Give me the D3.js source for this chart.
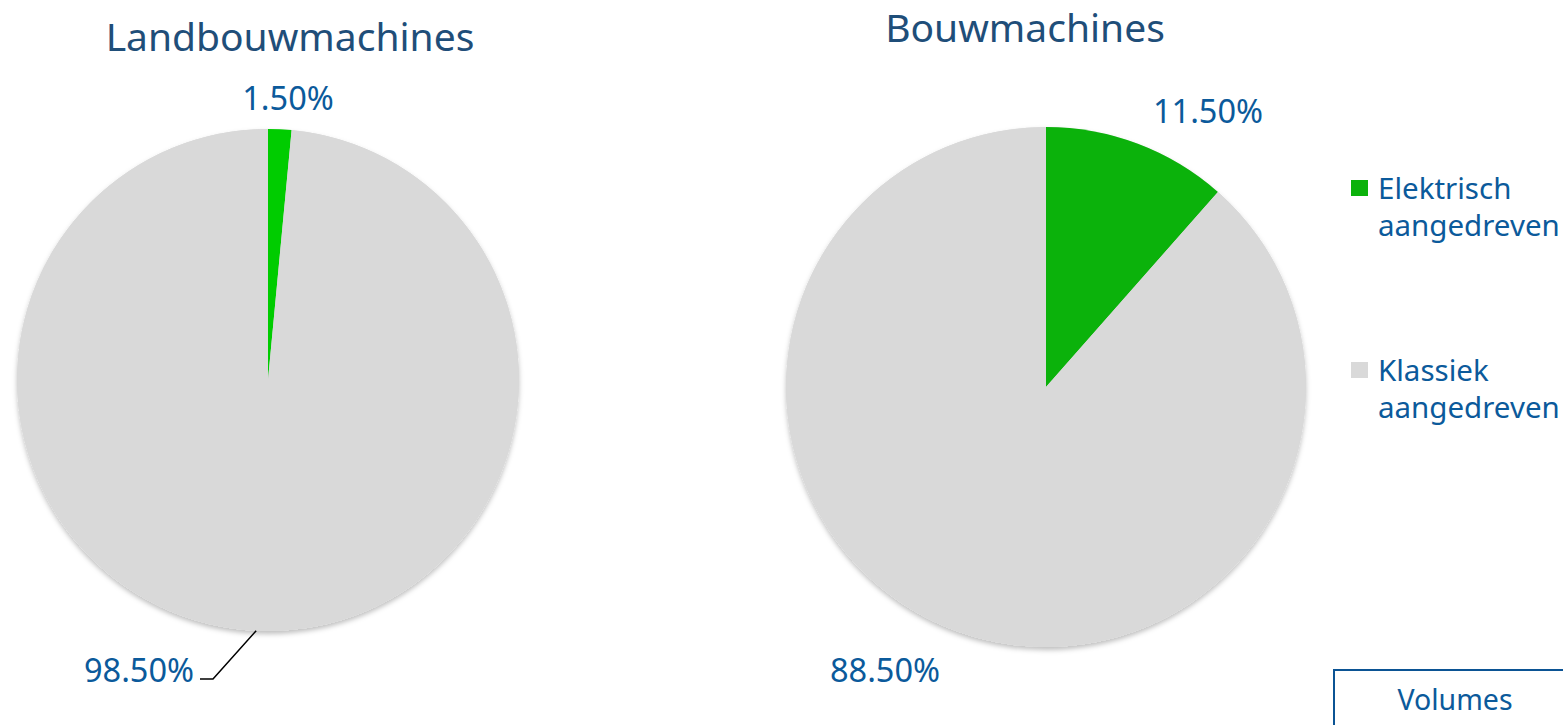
<!DOCTYPE html>
<html>
<head>
<meta charset="utf-8">
<script src="https://cdn.jsdelivr.net/npm/d3@7"></script>
<style>
  body { margin: 0; background: #fff; }
  text { font-family: "Noto Sans", "DejaVu Sans", sans-serif; }
</style>
</head>
<body>
<script>
var W = 1563, H = 725;

// data
var categories = ["Elektrisch aangedreven", "Klassiek aangedreven"];
var titles = ["Landbouwmachines", "Bouwmachines"];
var landbouw = [1.5, 98.5];
var bouw = [11.5, 88.5];

var textBlue = "#0B5A9B";
var titleBlue = "#1F4E79";
var grey = "#D9D9D9";

var svg = d3.select("body").append("svg")
    .attr("width", W)
    .attr("height", H);

var defs = svg.append("defs");
var f = defs.append("filter").attr("id", "shadow")
    .attr("x", "-10%").attr("y", "-10%").attr("width", "120%").attr("height", "125%");
f.append("feDropShadow")
    .attr("dx", 0).attr("dy", 3).attr("stdDeviation", 2.5)
    .attr("flood-color", "#000").attr("flood-opacity", 0.25);

var pie = d3.pie().sort(null).value(d => d);

// layout per chart (positions only)
var charts = [
  {values: landbouw, title: titles[0], cx: 268, cy: 380, r: 251, tx: 290, ty: 51,
   green: "#00CC00",
   labels: [{x: 288, y: 110, lead: false}, {x: 139, y: 682, lead: true, lx: 200, ly: 679}]},
  {values: bouw, title: titles[1], cx: 1046, cy: 387, r: 260, tx: 1025, ty: 42,
   green: "#0BB20B",
   labels: [{x: 1208, y: 123, lead: false}, {x: 885, y: 682, lead: false}]}
];

charts.forEach(function(c) {
  var color = d3.scaleOrdinal().domain(categories).range([c.green, grey]);
  var arc = d3.arc().innerRadius(0).outerRadius(c.r);
  var g = svg.append("g").attr("transform", "translate(" + c.cx + "," + c.cy + ")");

  var arcs = pie(c.values);
  g.append("circle").attr("r", c.r).attr("fill", grey).attr("filter", "url(#shadow)");
  g.selectAll("path.slice").data(arcs).enter().append("path")
      .attr("class", "slice")
      .attr("d", arc)
      .attr("fill", (d, i) => color(categories[i]));

  svg.append("text")
      .attr("x", c.tx).attr("y", c.ty)
      .attr("text-anchor", "middle")
      .attr("font-size", 39)
      .attr("fill", titleBlue)
      .text(c.title);

  arcs.forEach(function(a, i) {
    var L = c.labels[i];
    svg.append("text")
        .attr("x", L.x).attr("y", L.y)
        .attr("text-anchor", "middle")
        .attr("font-size", 32.5)
        .attr("fill", textBlue)
        .text(d3.format(".2f")(c.values[i]) + "%");
    if (L.lead) {
      var mid = (a.startAngle + a.endAngle) / 2;
      var px = c.cx + Math.sin(mid) * c.r;
      var py = c.cy - Math.cos(mid) * c.r;
      svg.append("path")
          .attr("d", d3.line()([[L.lx, L.ly], [L.lx + 13, L.ly], [px, py]]))
          .attr("fill", "none")
          .attr("stroke", "#000")
          .attr("stroke-width", 1.5);
    }
  });
});

// legend
var legend = svg.append("g");
var legendY = [188, 370];
categories.forEach(function(cat, i) {
  var row = legend.append("g").attr("transform", "translate(1350," + legendY[i] + ")");
  row.append("rect")
      .attr("x", 1).attr("y", -8).attr("width", 17).attr("height", 16)
      .attr("fill", i === 0 ? charts[1].green : grey);
  var words = cat.split(" ");
  words.forEach(function(w, j) {
    row.append("text")
        .attr("x", 28).attr("y", 11 + j * 37)
        .attr("font-size", 29.5)
        .attr("fill", textBlue)
        .text(w);
  });
});

// "Volumes" box
svg.append("path")
    .attr("d", "M1334," + H + "V670H" + W)
    .attr("fill", "none")
    .attr("stroke", "#0B5394")
    .attr("stroke-width", 2);
svg.append("text")
    .attr("x", 1455).attr("y", 710)
    .attr("text-anchor", "middle")
    .attr("font-size", 28.5)
    .attr("fill", textBlue)
    .text("Volumes");
</script>
</body>
</html>
